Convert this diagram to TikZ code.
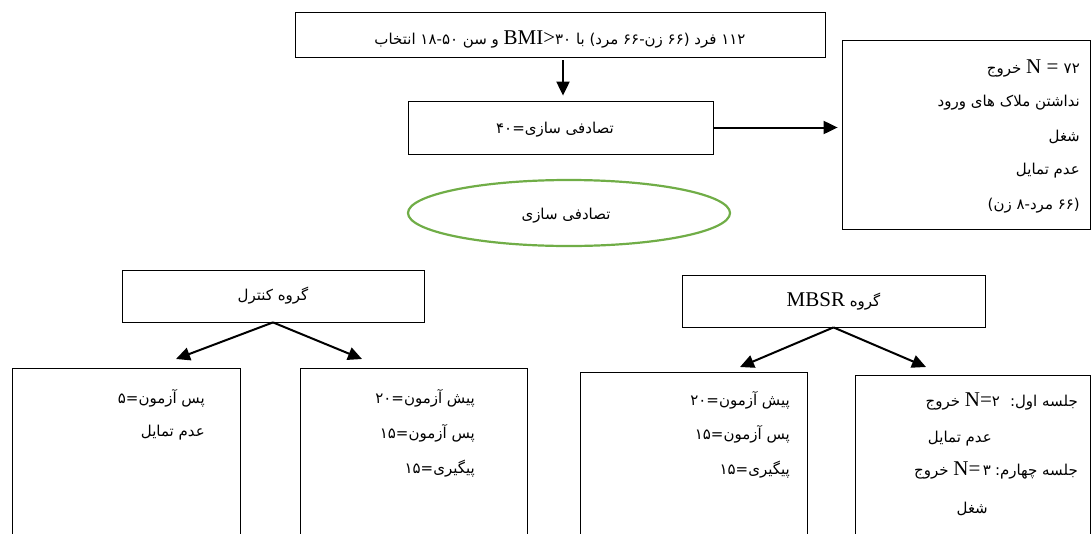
\documentclass[tikz,border=0pt]{standalone}
\usepackage{fontspec}
\setmainfont{Liberation Serif}
\newfontfamily\fa[Script=Arabic]{DejaVu Sans}
\TeXXeTstate=1
\usetikzlibrary{arrows.meta,shapes.geometric}
\newcommand\fatext[1]{{\fa\fontsize{15}{18}\selectfont\beginR #1\endR}}
\newcommand\lat[1]{{\rmfamily\fontsize{21}{23}\selectfont #1}}
\newcommand\ltrrun[1]{\beginL #1\endL{}}
\definecolor{egreen}{HTML}{70AD47}
\begin{document}
\begin{tikzpicture}[x=1pt,y=-1pt,
  box/.style={draw, line width=0.8pt, inner sep=0pt, rectangle},
  arr/.style={line width=2pt, -{Triangle[length=14pt,width=13pt]}},
  txt/.style={inner sep=0pt, anchor=east},
  ctxt/.style={inner sep=0pt}]
\useasboundingbox (0,0) rectangle (1092,533);
% top
\node[box, minimum width=530pt, minimum height=45pt] (top) at (560,34.5) {};
\node[ctxt] (toptext) at (560,39)
  {\fatext{۱۱۲ فرد (۶۶ زن-۶۶ مرد) با \ltrrun{\lat{BMI>}۳۰} و سن ۱۸-۵۰ انتخاب}};
\node[box, minimum width=305pt, minimum height=53pt] (rand) at (560.5,127.5) {};
\node[ctxt] (randtext) at (555,130) {\fatext{تصادفی سازی=۴۰}};
\node[box, minimum width=248pt, minimum height=189pt] (exit) at (966,134.5) {};
\node[txt] (e1) at (1080,68) {\fatext{\ltrrun{\lat{N = }۷۲} خروج}};
\node[txt] (e2) at (1080,103) {\fatext{نداشتن ملاک های ورود}};
\node[txt] (e3) at (1080,137) {\fatext{شغل}};
\node[txt] (e4) at (1080,171) {\fatext{عدم تمایل}};
\node[txt] (e5) at (1080,206) {\fatext{(۶۶ مرد-۸ زن)}};
\node[ellipse, draw=egreen, line width=2.2pt, minimum width=322pt, minimum height=66pt, inner sep=0pt] (ell) at (569,213) {};
\node[ctxt] (elltext) at (566,216) {\fatext{تصادفی سازی}};
\node[box, minimum width=302pt, minimum height=52pt] (ctrl) at (273,296)
  {\fatext{گروه کنترل}};
\node[box, minimum width=303pt, minimum height=52pt] (mbsr) at (833.5,301)
  {\fatext{گروه \lat{MBSR}}};
% lower boxes
\node[box, minimum width=228pt, minimum height=177pt] (cl) at (126,456.5) {};
\node[box, minimum width=227pt, minimum height=177pt] (cr) at (413.5,456.5) {};
\node[box, minimum width=227pt, minimum height=173pt] (ml) at (693.5,458.5) {};
\node[box, minimum width=235pt, minimum height=170pt] (mr) at (972.5,460) {};
\node[txt] (cl1) at (205,398) {\fatext{پس آزمون=۵}};
\node[txt] (cl2) at (205,433) {\fatext{عدم تمایل}};
\node[txt] (cr1) at (475,398) {\fatext{پیش آزمون=۲۰}};
\node[txt] (cr2) at (475,433) {\fatext{پس آزمون=۱۵}};
\node[txt] (cr3) at (475,469) {\fatext{پیگیری=۱۵}};
\node[txt] (ml1) at (790,400) {\fatext{پیش آزمون=۲۰}};
\node[txt] (ml2) at (790,434) {\fatext{پس آزمون=۱۵}};
\node[txt] (ml3) at (790,470) {\fatext{پیگیری=۱۵}};
\node[txt] (mr1) at (1078,401) {\fatext{جلسه اول:\hspace{10pt}\ltrrun{\lat{N=}۲} خروج}};
\node[txt] (mr2) at (992,439) {\fatext{عدم تمایل}};
\node[txt] (mr3) at (1078,470) {\fatext{جلسه چهارم:\hspace{4pt}\ltrrun{\lat{N=}\,۳} خروج}};
\node[txt] (mr4) at (988,509) {\fatext{شغل}};
% connectors
\draw[arr] ([xshift=3pt,yshift=-3pt]top.south) -- ([xshift=2.5pt,yshift=5pt]rand.north);
\path (exit.west |- rand.east) coordinate (ex0);
\draw[arr] (rand.east) -- ([xshift=-4pt]ex0);
\coordinate (ctip1) at (176,359);
\coordinate (ctip2) at (362,359);
\draw[arr] (ctrl.south) -- (ctip1);
\draw[arr] (ctrl.south) -- (ctip2);
\coordinate (mtip1) at (740,367);
\coordinate (mtip2) at (926,367);
\draw[arr] (mbsr.south) -- (mtip1);
\draw[arr] (mbsr.south) -- (mtip2);
\end{tikzpicture}
\end{document}
